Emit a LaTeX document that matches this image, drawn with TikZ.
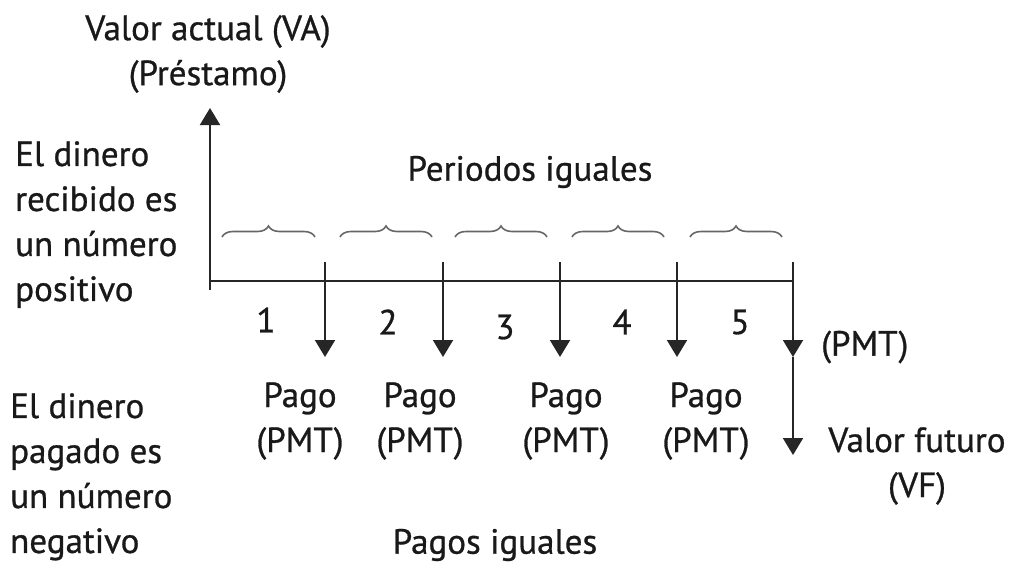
\documentclass[tikz,border=0pt]{standalone}
\usepackage{fontspec}
\setmainfont{PT Sans}[Numbers=Lining,FakeBold=0.8]
\usetikzlibrary{arrows.meta,decorations.pathreplacing}
\begin{document}
\begin{tikzpicture}[x=1pt,y=-1pt,
  ln/.style={draw=black!85,line width=2pt},
  arr/.style={ln,-{Triangle[width=20pt,length=17pt]}},
  br/.style={draw=black!60,line width=1.6pt,decorate,decoration={brace,amplitude=11pt}},
  lbl/.style={inner sep=0pt,font=\fontsize{35}{45}\selectfont,text=black!90},
  lft/.style={lbl,align=left,anchor=north west}]
\useasboundingbox (0,0) rectangle (1015,568);
% axes
\coordinate (o) at (210,290);
\coordinate (vtop) at (210,108);
\coordinate (hl) at (210,281);
\coordinate (hr) at (793,281);
\draw[arr] (o) -- (vtop);
\draw[ln] (hl) -- (hr);
% payment arrows
\foreach \x/\n in {325/1,443/2,560/3,677/4,793/5}{
  \coordinate (t\n) at (\x,262);
  \coordinate (b\n) at (\x,357);
  \draw[arr] (t\n) -- (b\n);
}
\coordinate (vf) at (793,455);
\draw[arr] (b5) -- (vf);
% braces
\foreach \a/\b/\n in {222/315/1,340/432/2,455/547/3,572/664/4,690/782/5}{
  \coordinate (bl\n) at (\a,237);
  \coordinate (brr\n) at (\b,237);
  \draw[br] (bl\n) -- (brr\n);
}
% numbers
\node[lbl] (n1) at (266,320) {1};
\node[lbl] (n2) at (388,322) {2};
\node[lbl] (n3) at (505,327) {3};
\node[lbl] (n4) at (622,322) {4};
\node[lbl] (n5) at (740,322) {5};
% labels
\node[lbl,align=center] (va) at (208,54) {Valor actual (VA)\\(Préstamo)};
\node[lbl] (per) at (530,172) {Periodos iguales};
\node[lbl,anchor=west] (pmt) at (821,347) {(PMT)};
\node[lbl,align=center] (fut) at (917,466) {Valor futuro\\(VF)};
\node[lbl,align=center] (p1) at (300,421) {Pago\\(PMT)};
\node[lbl,align=center] (p2) at (420,421) {Pago\\(PMT)};
\node[lbl,align=center] (p3) at (566,421) {Pago\\(PMT)};
\node[lbl,align=center] (p4) at (706,421) {Pago\\(PMT)};
\node[lbl] (pig) at (495,545) {Pagos iguales};
\node[lft] (rec) at (15,141) {El dinero\\recibido es\\un número\\positivo};
\node[lft] (pag) at (10,393) {El dinero\\pagado es\\un número\\negativo};
\end{tikzpicture}
\end{document}
